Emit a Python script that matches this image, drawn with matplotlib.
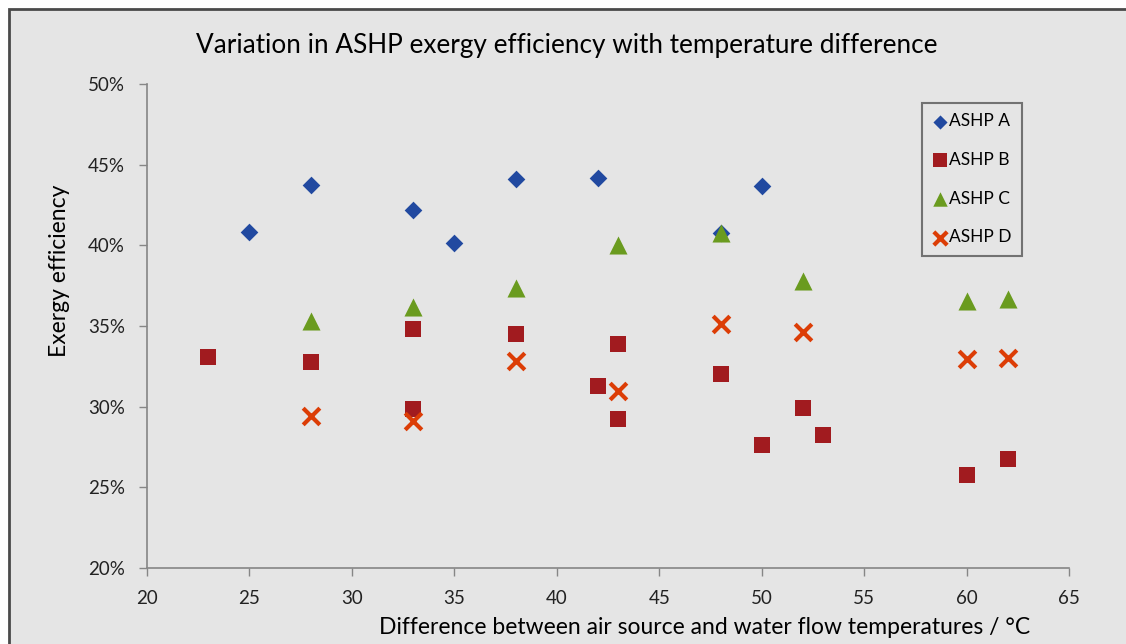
import matplotlib
matplotlib.use('Agg')
import matplotlib.pyplot as plt
from matplotlib.patches import Rectangle
from matplotlib.ticker import FuncFormatter

# temperature difference (degC) and exergy efficiency (%) for each heat pump
x_a = [25, 28, 33, 35, 38, 42, 48, 50]
y_a = [40.85, 43.75, 42.2, 40.15, 44.1, 44.2, 40.75, 43.7]

x_b = [23, 28, 33, 33, 38, 42, 43, 43, 48, 50, 52, 53, 60, 62]
y_b = [33.1, 32.75, 34.8, 29.85, 34.5, 31.3, 33.9, 29.25, 32.0, 27.6, 29.9, 28.25, 25.75, 26.75]

x_c = [28, 33, 38, 43, 48, 52, 60, 62]
y_c = [35.3, 36.15, 37.35, 40.0, 40.75, 37.8, 36.55, 36.65]

x_d = [28, 33, 38, 43, 48, 52, 60, 62]
y_d = [29.4, 29.1, 32.8, 30.95, 35.1, 34.65, 32.95, 33.0]

x_ticks = [20, 25, 30, 35, 40, 45, 50, 55, 60, 65]
y_ticks = [20, 25, 30, 35, 40, 45, 50]

bg = '#e5e5e5'
axis_col = '#868686'
plt.rcParams['font.family'] = ['Lato', 'DejaVu Sans']

fig = plt.figure(figsize=(11.26, 6.44), dpi=100)
fig.patch.set_facecolor('white')
# grey chart area with dark border, cropped at right and bottom
fig.patches.append(Rectangle((9/1126, -0.05), 1.2, 1 - 9/644 + 0.05,
                             transform=fig.transFigure, facecolor=bg,
                             edgecolor='#4a4a4a', linewidth=2, zorder=-1))

ax = fig.add_axes([147/1126, 1 - 568/644, (1069 - 147)/1126, (568 - 84)/644])
ax.set_facecolor('none')

ax.scatter(x_a, y_a, marker='D', s=9**2, color='#2149a0', linewidths=0, label='ASHP A', zorder=3)
ax.scatter(x_b, y_b, marker='s', s=12**2, color='#a11b1f', linewidths=0, label='ASHP B', zorder=3)
ax.scatter(x_c, y_c, marker='^', s=13**2, color='#6a9b1f', linewidths=0, label='ASHP C', zorder=4)
ax.scatter(x_d, y_d, marker='x', s=12**2, color='#dc3d06', linewidths=3, label='ASHP D', zorder=5)

ax.set_xlim(20, 65)
ax.set_ylim(20, 50)
ax.set_xticks(x_ticks)
ax.set_yticks(y_ticks)
ax.yaxis.set_major_formatter(FuncFormatter(lambda v, p: '%d%%' % v))

for s in ['top', 'right']:
    ax.spines[s].set_visible(False)
for s in ['left', 'bottom']:
    ax.spines[s].set_color(axis_col)
    ax.spines[s].set_linewidth(1.2)
ax.tick_params(direction='out', length=6, width=1, color=axis_col,
               labelsize=13.5, labelcolor='#222222')
ax.tick_params(axis='x', pad=10)
ax.tick_params(axis='y', pad=10)

fig.text(705/1126, 1 - 628/644, 'Difference between air source and water flow temperatures / °C',
         ha='center', va='center', fontsize=16.5)
fig.text(59/1126, 1 - 271/644, 'Exergy efficiency', rotation=90,
         ha='center', va='center', fontsize=16.5)
fig.text(567/1126, 1 - 45/644, 'Variation in ASHP exergy efficiency with temperature difference',
         ha='center', va='center', fontsize=18.8)

leg = ax.legend(loc='upper left', bbox_to_anchor=((922 - 147)/922, 1 - (103 - 84)/484),
                fontsize=12.5, frameon=True, fancybox=False, labelspacing=1.3,
                handletextpad=0.05, handlelength=0.9, borderpad=0.6, borderaxespad=0,
                markerscale=0.8)
leg.get_frame().set_facecolor(bg)
leg.get_frame().set_edgecolor('#555555')
leg.get_frame().set_linewidth(1.5)

fig.savefig('out.png', dpi=100, facecolor=fig.get_facecolor())
